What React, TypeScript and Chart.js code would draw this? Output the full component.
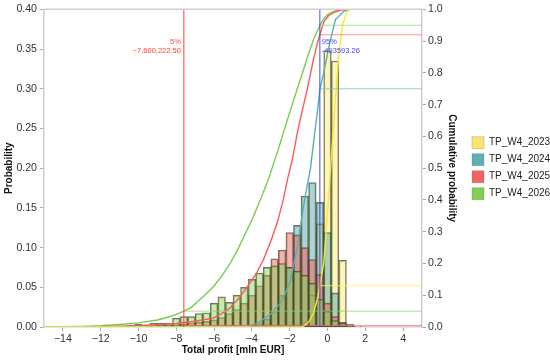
import React, { useEffect, useRef } from 'react';
import { Chart, registerables } from 'chart.js';

Chart.register(...registerables);

const SERIES = ['TP_W4_2023', 'TP_W4_2024', 'TP_W4_2025', 'TP_W4_2026'];

const BIN_CENTERS = [
  -12, -11.6, -11.2, -10.8, -10.4, -10, -9.6, -9.2, -8.8, -8.4, -8, -7.6,
  -7.2, -6.8, -6.4, -6, -5.6, -5.2, -4.8, -4.4, -4, -3.6, -3.2, -2.8,
  -2.4, -2, -1.6, -1.2, -0.8, -0.4, 0, 0.4, 0.8, 1.2, 1.6, 2,
];

const HIST_2023 = [
  0, 0, 0, 0, 0, 0, 0, 0, 0, 0, 0, 0,
  0, 0, 0, 0, 0, 0, 0, 0, 0, 0, 0, 0,
  0, 0, 0.001, 0.006, 0.04, 0.13, 0.348, 0.335, 0.084, 0.003, 0, 0,
];
const HIST_2024 = [
  0, 0, 0, 0, 0, 0, 0, 0, 0, 0, 0, 0,
  0, 0, 0, 0, 0, 0, 0, 0, 0.002, 0.005, 0.01, 0.02,
  0.04, 0.075, 0.128, 0.165, 0.182, 0.157, 0.119, 0.043, 0.006, 0.001, 0, 0,
];
const HIST_2025 = [
  0, 0, 0, 0, 0.001, 0.001, 0.001, 0.001, 0.002, 0.002, 0.003, 0.004,
  0.005, 0.006, 0.007, 0.009, 0.012, 0.017, 0.022, 0.03, 0.04, 0.052, 0.065, 0.086,
  0.097, 0.119, 0.116, 0.1, 0.085, 0.066, 0.03, 0.013, 0.005, 0.003, 0.001, 0,
];
const HIST_2026 = [
  0.0005, 0.001, 0.001, 0.001, 0.002, 0.0035, 0.0025, 0.005, 0.005, 0.005, 0.011, 0.013,
  0.013, 0.017, 0.018, 0.03, 0.038, 0.031, 0.04, 0.05, 0.06, 0.068, 0.075, 0.077,
  0.08, 0.075, 0.07, 0.065, 0.055, 0.035, 0.02, 0.008, 0.002, 0, 0, 0,
];

const CDF_X_2023 = [-15, -1.4, -1.27, -1.0, -0.74, -0.55, -0.4, -0.2, 0, 0.2, 0.4, 0.6, 0.8, 1.0, 1.2, 5];
const CDF_P_2023 = [0, 0, 0.002, 0.015, 0.044, 0.085, 0.13, 0.2, 0.36, 0.53, 0.7, 0.86, 0.95, 0.99, 1, 1];

const CDF_X_2024 = [-15, -5, -4.2, -3.7, -3.0, -2.5, -2.2, -1.96, -1.6, -1.27, -1.06, -0.9, -0.7, -0.53, -0.4, -0.2, 0, 0.16, 0.42, 0.85, 1.1, 5];
const CDF_P_2024 = [0, 0, 0.003, 0.012, 0.04, 0.075, 0.11, 0.148, 0.25, 0.38, 0.45, 0.5, 0.6, 0.68, 0.75, 0.8, 0.86, 0.905, 0.968, 0.993, 1, 1];

const CDF_X_2025 = [-15, -12, -10, -9, -8, -7, -6.05, -5.6, -5.15, -4.7, -4.25, -3.8, -3.4, -3.0, -2.66, -2.34, -2.12, -1.85, -1.57, -1.3, -1.03, -0.75, -0.53, -0.4, -0.2, 0.05, 0.32, 0.7, 1.2, 5];
const CDF_P_2025 = [0, 0.001, 0.004, 0.007, 0.011, 0.018, 0.028, 0.042, 0.06, 0.09, 0.126, 0.165, 0.21, 0.27, 0.328, 0.4, 0.464, 0.53, 0.62, 0.69, 0.76, 0.84, 0.895, 0.92, 0.96, 0.98, 0.99, 0.998, 1, 1];

const CDF_X_2026 = [-15, -14, -13, -12, -11, -10, -9, -8.5, -8, -7.6, -7.2, -6.9, -6.5, -6.05, -5.6, -5.15, -4.7, -4.25, -3.9, -3.56, -3.13, -2.6, -2.12, -1.6, -1.27, -1.0, -0.74, -0.4, -0.2, 0, 0.3, 0.53, 0.85, 5];
const CDF_P_2026 = [0, 0.001, 0.002, 0.004, 0.008, 0.013, 0.022, 0.03, 0.04, 0.05, 0.062, 0.079, 0.1, 0.126, 0.16, 0.2, 0.25, 0.306, 0.35, 0.4, 0.464, 0.56, 0.653, 0.75, 0.81, 0.86, 0.905, 0.95, 0.97, 0.984, 0.993, 0.997, 1, 1];

const QUANTILE_X = [-7.6002225, -0.40359326];
const QUANTILE_LABELS = ['5%', '95%'];
const QUANTILE_VALUE_LABELS = ['\u22127,600,222.50', '-403593.26'];
// cumulative probability of each series at the two quantile lines
const CUM_AT_Q05 = [0, 0, 0.005, 0.05];
const CUM_AT_Q95 = [0.13, 0.75, 0.92, 0.95];

const X_TICKS = [-14, -12, -10, -8, -6, -4, -2, 0, 2, 4];
const X_MIN = -15;
const X_MAX = 5;
const Y_MAX = 0.4;

const BAR_FILL = ['rgba(250,230,100,0.42)', 'rgba(70,160,165,0.45)', 'rgba(238,80,80,0.45)', 'rgba(130,210,80,0.45)'];
const LEGEND_FILL = ['#f8e56e', '#5fb0b2', '#f26464', '#82cf52'];
const LINE_COLOR = ['#fbe930', '#4fb2ba', '#ff5858', '#78cc4c'];
const HLINE_COLOR = ['rgba(252,236,90,0.85)', 'rgba(110,195,200,0.75)', 'rgba(255,110,110,0.75)', 'rgba(140,215,100,0.75)'];
const QUANTILE_COLOR = ['#ff3c3c', '#4848dc'];
const FONT = '"Liberation Sans", Arial, Helvetica, sans-serif';

const HISTS = [HIST_2023, HIST_2024, HIST_2025, HIST_2026];
const CDF_XS = [CDF_X_2023, CDF_X_2024, CDF_X_2025, CDF_X_2026];
const CDF_PS = [CDF_P_2023, CDF_P_2024, CDF_P_2025, CDF_P_2026];

const annotationPlugin = {
  id: 'quantileText',
  afterDatasetsDraw(chart: any) {
    const { ctx, chartArea, scales } = chart;
    const x = scales.x;
    ctx.save();
    ctx.font = `7.5px ${FONT}`;
    ctx.textBaseline = 'middle';
    QUANTILE_X.forEach((q, i) => {
      const px = x.getPixelForValue(q);
      ctx.fillStyle = QUANTILE_COLOR[i];
      ctx.textAlign = i === 0 ? 'right' : 'left';
      const tx = i === 0 ? px - 3 : px + 2;
      ctx.fillText(QUANTILE_LABELS[i], tx, chartArea.top + 33);
      ctx.fillText(QUANTILE_VALUE_LABELS[i], tx, chartArea.top + 42);
    });
    ctx.restore();
  },
  afterDraw(chart: any) {
    const { ctx, chartArea } = chart;
    ctx.save();
    ctx.strokeStyle = '#cfcfcf';
    ctx.lineWidth = 1.5;
    ctx.beginPath();
    ctx.moveTo(chartArea.left, chartArea.top);
    ctx.lineTo(chartArea.right, chartArea.top);
    ctx.stroke();
    ctx.restore();
  },
};

export default function App() {
  const ref = useRef<HTMLCanvasElement>(null);

  useEffect(() => {
    if (!ref.current) return;

    const datasets: any[] = [];

    // quantile vertical lines
    QUANTILE_X.forEach((q, i) => {
      datasets.push({
        type: 'line',
        label: 'q' + i,
        data: [{ x: q, y: 0 }, { x: q, y: Y_MAX }],
        borderColor: QUANTILE_COLOR[i],
        borderWidth: 1,
        pointRadius: 0,
        yAxisID: 'y',
        isAux: true,
      });
    });

    // horizontal cumulative level lines
    [CUM_AT_Q05, CUM_AT_Q95].forEach((levels, j) => {
      levels.forEach((lv, s) => {
        if (lv <= 0) return;
        datasets.push({
          type: 'line',
          label: 'h' + j + s,
          data: [{ x: QUANTILE_X[j], y: lv }, { x: X_MAX, y: lv }],
          borderColor: HLINE_COLOR[s],
          borderWidth: 1,
          pointRadius: 0,
          yAxisID: 'y2',
          isAux: true,
        });
      });
    });

    // cumulative curves
    SERIES.forEach((name, s) => {
      datasets.push({
        type: 'line',
        label: name + ' cdf',
        data: CDF_XS[s].map((x, i) => ({ x, y: CDF_PS[s][i] })),
        borderColor: LINE_COLOR[s],
        borderWidth: 1.4,
        pointRadius: 0,
        tension: 0,
        yAxisID: 'y2',
        isAux: true,
      });
    });

    // histograms: later series drawn on top (earlier dataset index = on top)
    [3, 2, 1, 0].forEach((s) => {
      const name = SERIES[s];
      datasets.push({
        type: 'bar',
        label: name,
        data: BIN_CENTERS.map((x, i) => ({ x, y: HISTS[s][i] })).filter((d) => d.y > 0),
        backgroundColor: BAR_FILL[s],
        borderColor: 'rgba(70,70,45,0.75)',
        borderWidth: 1,
        borderSkipped: false,
        grouped: false,
        barPercentage: 1,
        categoryPercentage: 1,
        yAxisID: 'y',
        legendIndex: s,
      });
    });

    const chart = new Chart(ref.current, {
      type: 'bar',
      data: { datasets },
      plugins: [annotationPlugin],
      options: {
        animation: false,
        responsive: false,
        devicePixelRatio: 1,
        events: [],
        layout: { padding: { top: 9, left: 0, right: 0, bottom: 0 } },
        font: { family: FONT },
        plugins: {
          tooltip: { enabled: false },
          legend: {
            position: 'right',
            fullSize: false,
            maxWidth: 83,
            labels: {
              boxWidth: 12,
              boxHeight: 12,
              padding: 5,
              color: '#222',
              font: { family: FONT, size: 10 },
              filter: (item: any, data: any) => !data.datasets[item.datasetIndex].isAux,
              sort: (a: any, b: any) => a.legendIndex - b.legendIndex,
              generateLabels: (ch: any) => {
                const items = Chart.defaults.plugins.legend.labels.generateLabels(ch);
                return items.map((it: any) => {
                  const ds = ch.data.datasets[it.datasetIndex];
                  if (ds.isAux) return it;
                  return {
                    ...it,
                    legendIndex: ds.legendIndex,
                    fillStyle: LEGEND_FILL[ds.legendIndex],
                    strokeStyle: 'rgba(90,90,90,0.5)',
                    lineWidth: 0.5,
                  };
                });
              },
            },
          },
        },
        scales: {
          x: {
            type: 'linear',
            min: X_MIN,
            max: X_MAX,
            offset: false,
            afterBuildTicks: (axis: any) => {
              axis.ticks = X_TICKS.map((v) => ({ value: v }));
            },
            afterFit: (axis: any) => {
              axis.height = 33;
            },
            grid: { display: true, drawOnChartArea: false, offset: false, tickLength: 4, color: '#aaa' },
            border: { color: '#cfcfcf', width: 1.5 },
            ticks: {
              autoSkip: false,
              maxRotation: 0,
              padding: 2,
              color: '#333',
              font: { family: FONT, size: 10.6 },
              callback: (v: any) => (v < 0 ? '\u2212' + Math.abs(v) : String(v)),
            },
            title: {
              display: true,
              text: 'Total profit [mln EUR]',
              color: '#111',
              font: { family: FONT, size: 10, weight: 'bold' },
              padding: { top: 0, bottom: 4 },
            },
          },
          y: {
            type: 'linear',
            position: 'left',
            min: 0,
            max: Y_MAX,
            afterFit: (axis: any) => {
              axis.width = 44;
            },
            grid: { display: true, drawOnChartArea: false, tickLength: 4, color: '#aaa' },
            border: { color: '#cfcfcf', width: 1.5 },
            ticks: {
              stepSize: 0.05,
              padding: 3,
              color: '#333',
              font: { family: FONT, size: 10.6 },
              callback: (v: any) => Number(v).toFixed(2),
            },
            title: {
              display: true,
              text: 'Probability',
              color: '#111',
              font: { family: FONT, size: 10, weight: 'bold' },
              padding: { top: 3, bottom: 0 },
            },
          },
          y2: {
            type: 'linear',
            position: 'right',
            min: 0,
            max: 1,
            afterFit: (axis: any) => {
              axis.width = 45;
            },
            grid: { display: true, drawOnChartArea: false, tickLength: 4, color: '#aaa' },
            border: { color: '#cfcfcf', width: 1.5 },
            ticks: {
              stepSize: 0.1,
              padding: 2,
              color: '#333',
              font: { family: FONT, size: 10.6 },
              callback: (v: any) => Number(v).toFixed(1),
            },
            title: {
              display: true,
              text: 'Cumulative probability',
              color: '#111',
              font: { family: FONT, size: 10, weight: 'bold' },
              padding: { top: 9, bottom: 0 },
            },
          },
        },
      } as any,
    });

    return () => chart.destroy();
  }, []);

  return (
    <div style={{ position: 'absolute', left: 0, top: 0, width: 550, height: 360, background: '#fff' }}>
      <canvas ref={ref} width={550} height={360} />
    </div>
  );
}
